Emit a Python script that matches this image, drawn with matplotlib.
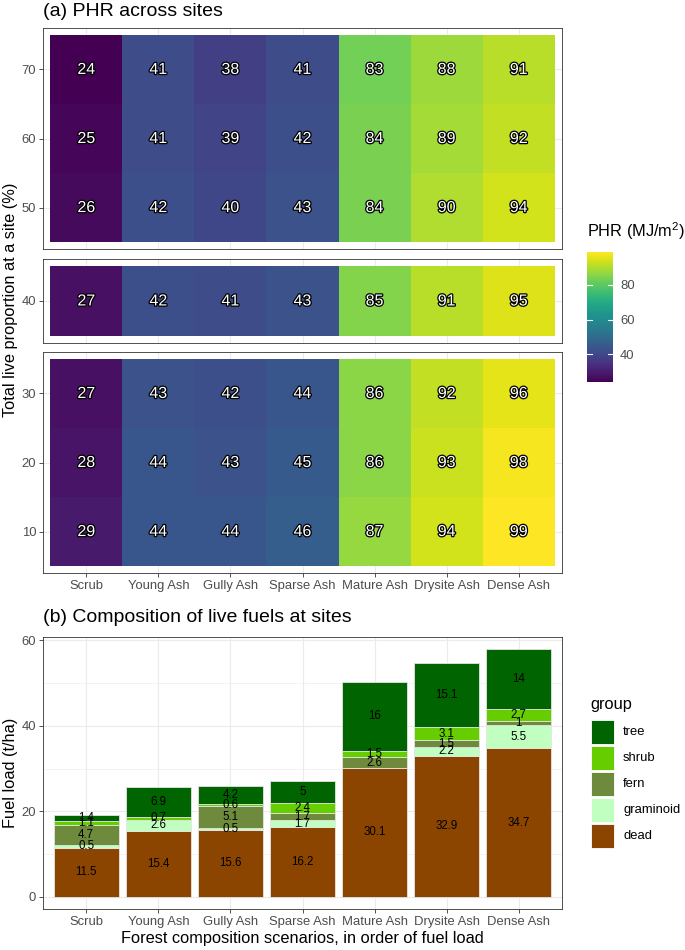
import numpy as np
import matplotlib.pyplot as plt
import matplotlib.patheffects as pe
from matplotlib.colors import Normalize
from matplotlib.patches import Rectangle

plt.rcParams['font.family'] = ['Liberation Sans', 'DejaVu Sans']
plt.rcParams['mathtext.fontset'] = 'custom'
plt.rcParams['mathtext.rm'] = 'Liberation Sans'

# ---- data ----
sites = ['Scrub', 'Young Ash', 'Gully Ash', 'Sparse Ash', 'Mature Ash', 'Drysite Ash', 'Dense Ash']
live_prop = [70, 60, 50, 40, 30, 20, 10]
phr = np.array([
    [24, 41, 38, 41, 83, 88, 91],
    [25, 41, 39, 42, 84, 89, 92],
    [26, 42, 40, 43, 84, 90, 94],
    [27, 42, 41, 43, 85, 91, 95],
    [27, 43, 42, 44, 86, 92, 96],
    [28, 44, 43, 45, 86, 93, 98],
    [29, 44, 44, 46, 87, 94, 99],
])
facet_rows = [[70, 60, 50], [40], [30, 20, 10]]

groups = ['dead', 'graminoid', 'fern', 'shrub', 'tree']
dead = [11.5, 15.4, 15.6, 16.2, 30.1, 32.9, 34.7]
graminoid = [0.5, 2.6, 0.5, 1.7, 0, 2.2, 5.5]
fern = [4.7, 0, 5.1, 1.7, 2.6, 1.5, 1.0]
shrub = [1.1, 0.7, 0.6, 2.4, 1.5, 3.1, 2.7]
tree = [1.4, 6.9, 4.2, 5.0, 16.0, 15.1, 14.0]
group_cols = {'tree': '#006400', 'shrub': '#66CD00', 'fern': '#6E8B3D',
              'graminoid': '#C1FFC1', 'dead': '#8B4500'}

# font sizes (pt)
fs_title, fs_axis, fs_tick, fs_leg = 14, 11.8, 9.4, 9.4

# ---- layout helpers (pixels) ----
W, H = 685, 950
fig = plt.figure(figsize=(W / 100, H / 100), dpi=100)


def box(x0, y0, x1, y1):
    return [x0 / W, 1 - y1 / H, (x1 - x0) / W, (y1 - y0) / H]


def style(ax):
    for s in ax.spines.values():
        s.set_color('#333333')
        s.set_linewidth(0.6)
    ax.tick_params(colors='#333333', labelcolor='#4D4D4D', labelsize=fs_tick,
                   length=3, width=0.6, pad=2)


norm = Normalize(vmin=phr.min(), vmax=phr.max())
cmap = plt.get_cmap('viridis')
xs = np.arange(len(sites))

# ---- (a) heatmap, three facets ----
panel_px = [(28, 249), (259, 343), (352, 573)]
for k, (rows, (top, bot)) in enumerate(zip(facet_rows, panel_px)):
    ax = fig.add_axes(box(43, top, 562, bot))
    style(ax)
    idx = [live_prop.index(r) for r in rows]
    vals = phr[idx][::-1]
    ny = len(rows)
    for g in xs:
        ax.axvline(g, color='#EBEBEB', lw=0.8, zorder=0)
    for g in range(ny):
        ax.axhline(g, color='#EBEBEB', lw=0.8, zorder=0)
    ax.pcolormesh(np.arange(len(sites) + 1) - 0.5, np.arange(ny + 1) - 0.5, vals,
                  cmap=cmap, norm=norm, zorder=1)
    for i in range(ny):
        for j in range(len(sites)):
            ax.text(j, i, str(vals[i, j]), ha='center', va='center', fontsize=11.5,
                    color='white', zorder=3,
                    path_effects=[pe.withStroke(linewidth=1.8, foreground='black')])
    ax.set_xlim(-0.6, len(sites) - 0.4)
    ax.set_ylim(-0.6, ny - 0.4)
    ax.set_yticks(range(ny))
    ax.set_yticklabels([str(r) for r in rows[::-1]])
    ax.set_xticks(xs)
    if k == 2:
        ax.set_xticklabels(sites)
    else:
        ax.tick_params(axis='x', length=0, labelbottom=False)

fig.text(43 / W, 1 - 11 / H, '(a) PHR across sites', fontsize=fs_title, va='center', ha='left')
fig.text(11 / W, 1 - 300 / H, 'Total live proportion at a site (%)', fontsize=fs_axis,
         rotation=90, va='center', ha='center')

# colorbar
cax = fig.add_axes(box(587, 252, 613, 382))
sm = plt.cm.ScalarMappable(norm=norm, cmap=cmap)
cb = fig.colorbar(sm, cax=cax, ticks=[40, 60, 80])
cb.outline.set_visible(False)
cax.tick_params(length=0, labelsize=fs_leg, labelcolor='#4D4D4D', pad=5)
for t in [40, 60, 80]:
    cax.plot([0, 0.2], [t, t], color='white', lw=0.8)
    cax.plot([0.8, 1], [t, t], color='white', lw=0.8)
fig.text(587 / W, 1 - 231 / H, 'PHR (MJ/m$^2$)', fontsize=fs_axis, va='center', ha='left')

# ---- (b) stacked bars ----
ax2 = fig.add_axes(box(43, 637, 562, 909))
style(ax2)
ax2.set_axisbelow(True)
layers = {'dead': dead, 'graminoid': graminoid, 'fern': fern, 'shrub': shrub, 'tree': tree}
bottom = np.zeros(len(sites))
for g in groups:
    v = np.array(layers[g], dtype=float)
    ax2.bar(xs, v, 0.9, bottom=bottom, color=group_cols[g], edgecolor='#E4E4E4', lw=0.6)
    for x, b, h in zip(xs, bottom, v):
        if h > 0:
            ax2.text(x, b + h / 2, '%g' % h, ha='center', va='center', fontsize=8.3,
                     color='black')
    bottom += v
ymax = bottom.max()
ax2.set_xlim(-0.6, len(sites) - 0.4)
ax2.set_ylim(-0.05 * ymax, 1.05 * ymax)
ax2.set_yticks([0, 20, 40, 60])
ax2.set_yticks([10, 30, 50], minor=True)
ax2.tick_params(axis='y', which='minor', length=0)
ax2.grid(True, which='major', color='#EBEBEB', lw=0.8)
ax2.grid(True, which='minor', axis='y', color='#EBEBEB', lw=0.4)
ax2.set_xticks(xs)
ax2.set_xticklabels(sites)
ax2.set_xlabel('Forest composition scenarios, in order of fuel load', fontsize=fs_axis, labelpad=2)

fig.text(43 / W, 1 - 617 / H, '(b) Composition of live fuels at sites', fontsize=fs_title,
         va='center', ha='left')
fig.text(11 / W, 1 - 773 / H, 'Fuel load (t/ha)', fontsize=fs_axis, rotation=90,
         va='center', ha='center')

# legend
fig.text(590 / W, 1 - 705 / H, 'group', fontsize=fs_axis, va='center', ha='left')
for i, g in enumerate(groups[::-1]):
    y0 = 720 + 26 * i
    fig.add_artist(Rectangle((591 / W, 1 - (y0 + 24) / H), 23 / W, 24 / H,
                             transform=fig.transFigure, facecolor=group_cols[g],
                             edgecolor='white', lw=0.6))
    fig.text(623 / W, 1 - (y0 + 12) / H, g, fontsize=fs_leg, va='center', ha='left')

fig.savefig('out.png', dpi=100)
